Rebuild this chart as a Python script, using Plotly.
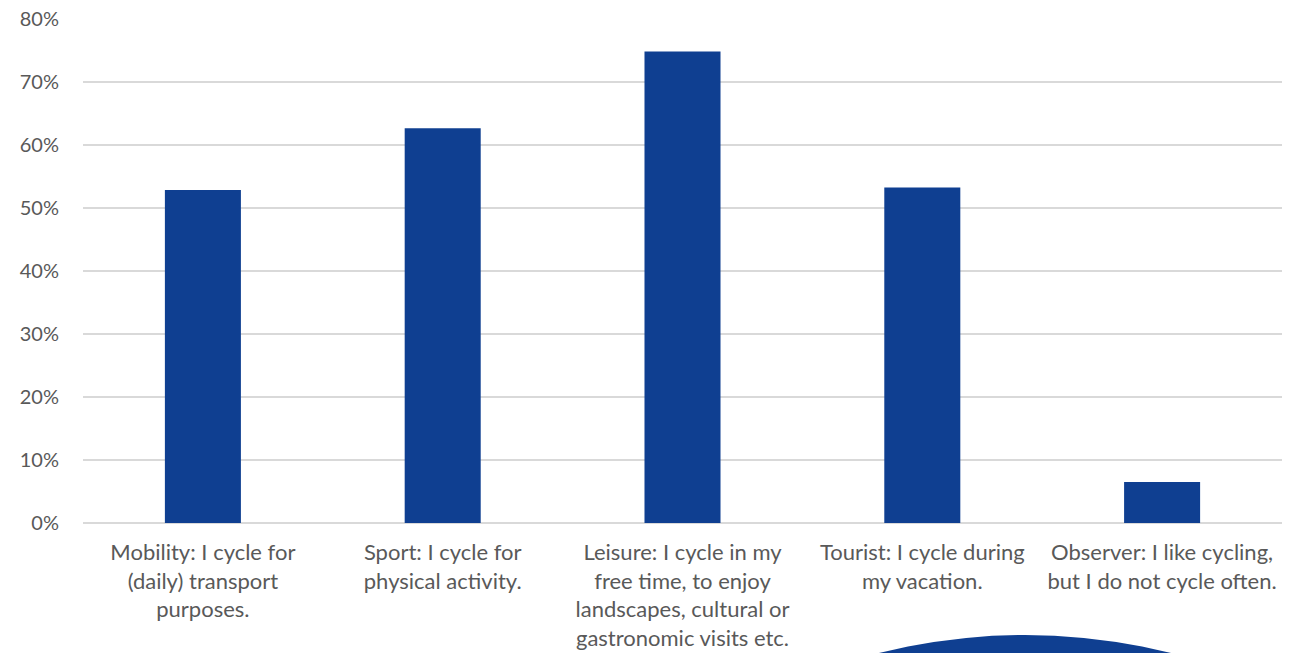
import plotly.graph_objects as go

categories = [
    "Mobility: I cycle for<br>(daily) transport<br>purposes.",
    "Sport: I cycle for<br>physical activity.",
    "Leisure: I cycle in my<br>free time, to enjoy<br>landscapes, cultural or<br>gastronomic visits etc.",
    "Tourist: I cycle during<br>my vacation.",
    "Observer: I like cycling,<br>but I do not cycle often.",
]
values = [0.529, 0.627, 0.749, 0.533, 0.065]
ytick_vals = [0, 0.1, 0.2, 0.3, 0.4, 0.5, 0.6, 0.7, 0.8]
ytick_text = ["0%", "10%", "20%", "30%", "40%", "50%", "60%", "70%", "80%"]

BAR = "#0F3F91"
OFF = 8  # page body margin offset
W, H = 1294, 653
L, T = 83 - OFF, 19 - OFF
R = W - (1282 - OFF)
B = H - (523 - OFF)
pw, ph = W - L - R, H - T - B

def px_x(px):
    return (px - OFF - L) / pw

def px_y(py):
    return (H - B - (py - OFF)) / ph

fig = go.Figure(go.Bar(x=categories, y=values, marker=dict(color=BAR, line=dict(width=0)), width=0.317))

fig.add_shape(type="circle", xref="paper", yref="paper",
              x0=px_x(1025 - 600), x1=px_x(1025 + 600),
              y0=px_y(635), y1=px_y(635 + 1200),
              fillcolor=BAR, line=dict(width=0), layer="above")

fig.update_layout(
    width=W, height=H,
    margin=dict(l=L, r=R, t=T, b=B),
    paper_bgcolor="white", plot_bgcolor="white",
    font=dict(family="Lato, Open Sans, sans-serif", size=22, color="#595959"),
    showlegend=False,
    bargap=0.68,
    xaxis=dict(showgrid=False, showline=False, ticks="", tickangle=0, tickfont=dict(size=22),
               automargin=False, ticklabelstandoff=14, ticklabeloverflow="allow"),
    yaxis=dict(range=[0, 0.8005], tickvals=ytick_vals, ticktext=ytick_text,
               showgrid=True, gridcolor="#D9D9D9", gridwidth=1.5,
               zeroline=True, zerolinecolor="#D9D9D9", zerolinewidth=1.5, automargin=False,
               ticks="", ticklen=0, tickfont=dict(size=20), ticklabelstandoff=23,
               ticklabeloverflow="allow"),
)

fig.write_html("out.html")
